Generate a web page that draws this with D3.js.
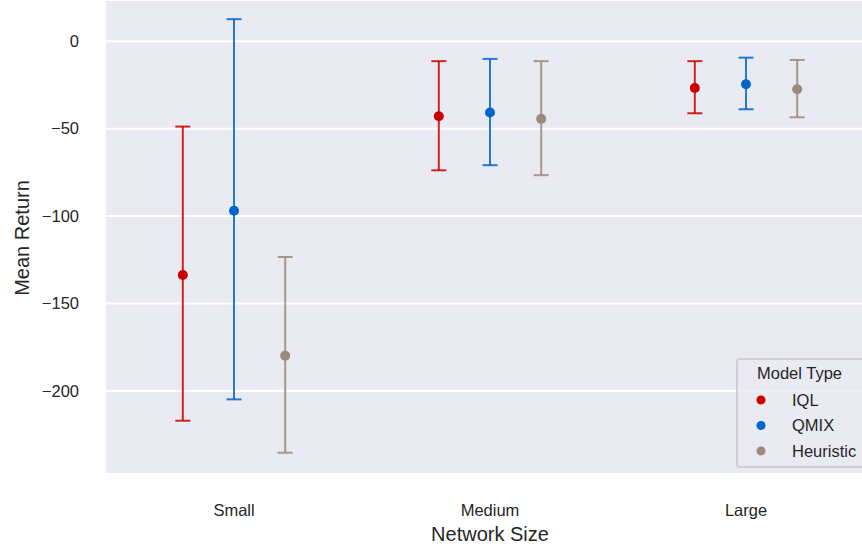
<!DOCTYPE html>
<html>
<head>
<meta charset="utf-8">
<script src="https://cdn.jsdelivr.net/npm/d3@7"></script>
<style>
  html, body { margin: 0; padding: 0; background: #ffffff; }
  svg { display: block; }
  text { font-family: "Liberation Sans", Arial, sans-serif; fill: #262626; }
</style>
</head>
<body>
<svg id="chart" width="862" height="548"></svg>
<script>
// Network sizes and model types
const categories = ["Small", "Medium", "Large"];
const models = ["IQL", "QMIX", "Heuristic"];
const colors = ["#c80000", "#0066cc", "#9b8b7b"];

// Mean return per model, ordered by network size
const meanIQL = [-133.7, -42.9, -26.7];
const meanQMIX = [-96.9, -40.8, -24.6];
const meanHeuristic = [-179.8, -44.4, -27.5];

// Interval bounds (low, high) per model, ordered by network size
const lowIQL = [-217.0, -73.8, -41.2];
const highIQL = [-48.8, -11.4, -11.4];
const lowQMIX = [-204.8, -70.9, -38.9];
const highQMIX = [12.6, -10.1, -9.4];
const lowHeuristic = [-235.3, -76.6, -43.5];
const highHeuristic = [-123.4, -11.4, -10.7];

const yTicks = [0, -50, -100, -150, -200];

const series = [
  { name: models[0], color: colors[0], mean: meanIQL, low: lowIQL, high: highIQL },
  { name: models[1], color: colors[1], mean: meanQMIX, low: lowQMIX, high: highQMIX },
  { name: models[2], color: colors[2], mean: meanHeuristic, low: lowHeuristic, high: highHeuristic }
];

const svg = d3.select("#chart");
const plot = { left: 106, right: 874, top: 1, bottom: 473 };
const fontFamily = "'Liberation Sans', Arial, sans-serif";

const x = d3.scaleBand().domain(categories).range([plot.left, plot.right]).padding(0);
const dodge = d3.scalePoint().domain(models).range([-0.2, 0.2]);
const y = d3.scaleLinear().domain([-246.9, 23.0]).range([plot.bottom, plot.top]);

// Background panel
svg.append("rect")
  .attr("x", plot.left).attr("y", plot.top)
  .attr("width", plot.right - plot.left).attr("height", plot.bottom - plot.top)
  .attr("fill", "#eaeaf2");

// Horizontal grid
svg.append("g").selectAll("line").data(yTicks).join("line")
  .attr("x1", plot.left).attr("x2", plot.right)
  .attr("y1", d => y(d)).attr("y2", d => y(d))
  .attr("stroke", "#ffffff").attr("stroke-width", 2);

// Y axis (labels only)
const yAxis = svg.append("g")
  .attr("transform", `translate(${plot.left},0)`)
  .call(d3.axisLeft(y).tickValues(yTicks).tickFormat(d3.format("d")).tickSize(0).tickPadding(27));
yAxis.select(".domain").remove();
yAxis.selectAll("text").style("font-size", "16.5px").attr("fill", "#262626")
  .style("font-family", fontFamily);

// X axis (labels only)
const xAxis = svg.append("g")
  .attr("transform", `translate(0,${plot.bottom})`)
  .call(d3.axisBottom(x).tickSize(0));
xAxis.select(".domain").remove();
xAxis.selectAll("text").style("font-size", "16.5px").attr("fill", "#262626")
  .style("font-family", fontFamily)
  .attr("y", 43).attr("dy", 0);

// Axis titles
svg.append("text")
  .attr("x", x("Medium") + x.bandwidth() / 2).attr("y", 541)
  .attr("text-anchor", "middle").style("font-size", "20px")
  .text("Network Size");

svg.append("text")
  .attr("transform", `translate(29,${(plot.top + plot.bottom) / 2 + 1}) rotate(-90)`)
  .attr("text-anchor", "middle").style("font-size", "20px")
  .text("Mean Return");

// Point estimates with interval bars
const capHalf = 7.5;
series.forEach(s => {
  const g = svg.append("g");
  const px = i => x(categories[i]) + x.bandwidth() / 2 + dodge(s.name) * x.bandwidth();
  const idx = categories.map((c, i) => i);

  const bars = g.append("g").attr("stroke", s.color).attr("stroke-width", 2).attr("stroke-opacity", 0.85);
  bars.selectAll("line.v").data(idx).join("line").attr("class", "v")
    .attr("x1", px).attr("x2", px)
    .attr("y1", i => y(s.low[i])).attr("y2", i => y(s.high[i]));
  bars.selectAll("line.lo").data(idx).join("line").attr("class", "lo")
    .attr("x1", i => px(i) - capHalf).attr("x2", i => px(i) + capHalf)
    .attr("y1", i => y(s.low[i])).attr("y2", i => y(s.low[i]));
  bars.selectAll("line.hi").data(idx).join("line").attr("class", "hi")
    .attr("x1", i => px(i) - capHalf).attr("x2", i => px(i) + capHalf)
    .attr("y1", i => y(s.high[i])).attr("y2", i => y(s.high[i]));

  g.selectAll("circle").data(idx).join("circle")
    .attr("cx", px).attr("cy", i => y(s.mean[i]))
    .attr("r", 5).attr("fill", s.color);
});

// Legend
const legend = svg.append("g");
legend.append("rect")
  .attr("x", 737).attr("y", 359).attr("width", 140).attr("height", 108)
  .attr("rx", 3).attr("fill", "#eaeaf2").attr("fill-opacity", 0.8)
  .attr("stroke", "#cfcfd4").attr("stroke-width", 2);
legend.append("text")
  .attr("x", 757).attr("y", 379).style("font-size", "16.5px").text("Model Type");
series.forEach((s, i) => {
  const cy = 400 + i * 25.5;
  legend.append("circle").attr("cx", 761).attr("cy", cy).attr("r", 4.5).attr("fill", s.color);
  legend.append("text").attr("x", 792).attr("y", cy + 5.5).style("font-size", "16.5px").text(s.name);
});
</script>
</body>
</html>
